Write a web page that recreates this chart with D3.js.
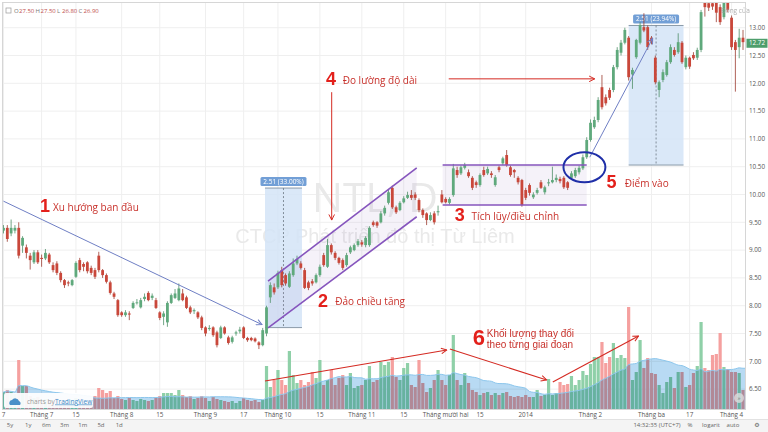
<!DOCTYPE html>
<html><head><meta charset="utf-8">
<script src="https://cdn.jsdelivr.net/npm/d3@7"></script>
<style>
body{margin:0;background:#fff;}
svg{display:block;font-family:"Open Sans","DejaVu Sans",sans-serif;}
</style></head><body>
<svg id="c" width="768" height="432"></svg>
<script>
// ---------- DATA ----------
const opens=[9.35,9.40,9.30,9.35,9.40,9.08,9.05,8.90,8.78,8.96,8.86,8.85,8.92,8.73,8.76,8.59,8.46,8.42,8.37,8.52,
8.82,8.75,8.78,8.68,8.64,8.90,8.64,8.55,8.42,8.22,8.10,7.88,7.83,7.86,7.96,8.05,7.97,8.12,8.23,8.14,
8.10,7.88,7.80,7.70,8.05,8.14,8.10,8.22,8.15,7.97,7.90,7.88,7.79,7.61,7.58,7.61,7.52,7.42,7.61,7.43,
7.35,7.50,7.54,7.61,7.42,7.42,7.41,7.34,7.29,7.50,8.15,8.33,8.33,8.64,8.55,8.34,8.55,8.76,8.76,8.64,
8.42,8.44,8.42,8.55,8.91,8.70,9.09,8.95,8.86,8.82,8.73,8.96,9.00,9.09,9.14,9.09,9.09,9.50,9.50,9.50,
9.66,9.85,10.12,9.77,9.72,9.86,9.94,9.99,10.00,9.90,9.72,9.66,9.54,9.66,9.68,10.00,9.92,9.85,9.99,10.44,
10.38,10.48,10.40,10.30,10.22,10.17,10.44,10.38,10.38,10.17,10.49,10.56,10.71,10.49,10.44,10.30,10.26,10.08,10.17,9.95,
10.03,10.22,10.04,10.20,10.22,10.26,10.28,10.30,10.22,10.30,10.33,10.40,10.47,10.67,10.98,11.21,11.34,11.93,11.75,11.88,
11.88,12.29,12.55,12.73,12.82,12.16,12.47,12.73,13.01,13.01,12.82,12.46,11.88,12.06,12.15,12.38,12.60,12.56,12.73,12.29,
12.46,12.51,12.46,12.60,13.45,13.44,13.44,13.45,13.37,13.19,13.45,13.18,12.74,12.65,12.82];
const highs=[9.45,9.45,9.55,9.45,9.50,9.25,9.10,8.95,9.00,9.00,8.92,9.02,8.95,8.78,8.80,8.62,8.48,8.45,8.48,8.80,
8.86,8.78,8.80,8.72,8.68,8.97,8.66,8.58,8.45,8.25,8.12,7.90,7.92,7.90,8.08,8.12,8.14,8.22,8.26,8.22,
8.14,7.90,7.90,8.08,8.22,8.30,8.40,8.30,8.18,8.00,7.95,7.90,7.82,7.63,7.65,7.63,7.55,7.64,7.63,7.46,
7.46,7.55,7.62,7.63,7.44,7.44,7.43,7.36,7.60,8.00,8.42,8.40,8.63,8.70,8.58,8.62,8.85,8.90,8.80,8.68,
8.45,8.48,8.58,8.74,8.95,9.20,9.12,8.98,8.88,8.85,8.95,9.08,9.12,9.20,9.18,9.25,9.43,9.53,9.52,9.70,
9.80,10.10,10.16,9.80,9.88,9.97,10.05,10.08,10.04,9.93,9.75,9.68,9.68,9.70,9.80,10.08,9.95,9.95,10.55,10.50,
10.52,10.57,10.45,10.33,10.25,10.38,10.50,10.50,10.42,10.35,10.52,10.68,10.80,10.52,10.46,10.33,10.28,10.12,10.20,10.04,
10.12,10.26,10.16,10.28,10.50,10.36,10.32,10.33,10.24,10.42,10.48,10.52,10.72,11.03,11.35,11.40,11.75,12.15,11.80,11.92,
12.33,12.65,12.78,13.00,12.85,12.28,12.80,13.10,13.26,13.04,12.85,12.50,12.05,12.25,12.42,12.70,12.65,12.90,12.76,12.50,
12.48,12.56,12.64,13.32,13.50,13.50,13.50,13.50,13.42,13.50,13.50,13.22,12.78,12.98,12.96];
const lows=[9.30,9.15,9.25,9.30,8.85,8.95,8.85,8.65,8.75,8.75,8.70,8.82,8.75,8.60,8.55,8.42,8.32,8.35,8.35,8.50,
8.60,8.62,8.58,8.55,8.48,8.60,8.50,8.40,8.20,8.12,7.80,7.80,7.80,7.74,7.94,8.02,7.95,8.08,8.08,8.10,
7.94,7.74,7.65,7.62,8.03,8.12,8.08,8.08,7.94,7.85,7.85,7.76,7.56,7.45,7.55,7.44,7.25,7.40,7.48,7.30,
7.32,7.46,7.50,7.40,7.35,7.36,7.34,7.22,7.27,7.45,8.05,8.20,8.30,8.33,8.36,8.32,8.52,8.73,8.65,8.30,
8.28,8.36,8.40,8.52,8.70,8.68,8.92,8.82,8.74,8.64,8.70,8.93,8.98,9.06,9.06,9.05,9.06,9.42,9.40,9.48,
9.62,9.82,9.74,9.65,9.70,9.84,9.92,9.90,9.90,9.68,9.58,9.45,9.52,9.46,9.62,9.84,9.84,9.82,9.96,10.30,
10.35,10.45,10.30,10.08,10.12,10.14,10.32,10.35,10.30,10.14,10.40,10.53,10.50,10.32,10.30,10.18,9.78,9.90,9.98,9.92,
10.00,10.10,10.00,10.15,10.20,10.22,10.20,10.10,10.08,10.26,10.30,10.36,10.44,10.64,10.95,11.18,11.30,11.53,11.60,11.70,
11.84,12.25,12.50,12.70,12.05,11.90,12.44,12.70,12.92,12.60,12.70,11.98,11.75,12.02,12.12,12.35,12.48,12.53,12.35,12.25,
12.26,12.42,12.42,12.56,13.20,13.30,13.32,13.10,13.05,13.15,13.28,12.60,11.85,12.45,12.60];
const closes=[9.40,9.20,9.40,9.40,8.90,9.22,8.95,8.82,8.96,8.78,8.84,8.95,8.78,8.64,8.59,8.46,8.37,8.40,8.46,8.77,
8.64,8.70,8.62,8.59,8.52,8.64,8.55,8.43,8.23,8.16,7.83,7.83,7.88,7.84,8.05,8.06,8.10,8.16,8.10,8.18,
7.96,7.78,7.86,8.05,8.19,8.22,8.31,8.10,7.96,7.88,7.92,7.79,7.60,7.50,7.60,7.47,7.29,7.61,7.50,7.33,
7.43,7.52,7.57,7.42,7.38,7.38,7.36,7.29,7.56,7.97,8.37,8.24,8.59,8.37,8.40,8.58,8.76,8.84,8.68,8.32,
8.32,8.40,8.55,8.70,8.73,9.09,8.96,8.86,8.77,8.68,8.91,9.05,9.09,9.16,9.10,9.22,9.40,9.45,9.44,9.66,
9.76,10.04,9.77,9.68,9.85,9.93,9.99,9.94,9.94,9.72,9.63,9.54,9.63,9.50,9.70,9.86,9.86,9.92,10.47,10.35,
10.49,10.53,10.33,10.12,10.17,10.35,10.35,10.46,10.35,10.31,10.44,10.65,10.53,10.35,10.40,10.22,9.81,9.94,10.03,10.00,
10.08,10.12,10.13,10.22,10.26,10.30,10.24,10.13,10.12,10.38,10.44,10.48,10.67,10.98,11.29,11.34,11.70,11.57,11.64,11.74,
12.29,12.60,12.73,12.96,12.11,12.24,12.78,13.05,12.95,12.65,12.75,12.02,12.02,12.20,12.38,12.65,12.51,12.74,12.38,12.46,
12.30,12.45,12.60,13.28,13.37,13.36,13.38,13.27,13.10,13.45,13.32,12.65,12.60,12.82,12.74];
const volumes=[170,190,170,150,490,230,230,130,110,120,90,100,90,80,110,90,80,70,90,110,
100,70,80,90,130,210,190,160,180,110,130,100,90,110,90,80,100,90,80,90,
110,130,160,160,160,140,190,140,120,130,100,110,130,110,80,120,100,90,80,70,
80,60,80,110,90,80,90,70,90,430,220,290,390,290,240,580,340,260,290,240,
270,370,310,490,240,290,390,240,310,340,240,360,210,230,240,290,430,270,290,470,
440,470,520,320,290,410,460,240,220,490,260,170,210,290,390,290,240,340,740,290,
240,360,260,190,170,140,160,170,140,160,140,160,170,130,120,130,120,140,120,120,
190,130,140,300,140,160,270,240,250,330,240,290,380,340,450,520,520,670,460,520,
660,510,540,510,1020,290,370,690,410,510,360,350,240,160,270,320,210,370,370,220,
240,360,430,870,410,390,540,550,760,420,400,370,370,360,190];
const tickLabels=["7","Tháng 7","15","Tháng 8","15","Tháng 9","17","Tháng 10","15","Tháng 11","15","Tháng mười hai","15","2014","Tháng 2","Tháng ba","17","Tháng 4"];
const tickIndex=[0,10,19,31,41,53,63,72,83,94,105,116,125,137,154,170,180,191];
const priceTicks=[6.5,7,7.5,8,8.5,9,9.5,10,10.5,11,11.5,12,12.5,13];
const lastPrice=12.72;
const legendValues=[["O","27.50"],["H","27.50"],["L","26.80"],["C","26.90"]];
const toolbarLeft=["5y","1y","6m","3m","1m","5d","1d"];
// annotations anchored in (bar index, price) / (bar index, volume)
const trendLine=[[0,9.88],[67.8,7.66]];
const channelUpper=[[69.4,8.44],[108.4,10.48]];
const channelLower=[[69.4,7.60],[108.4,9.60]];
const rangeBox={i0:115.2,i1:153,top:10.53,bottom:9.81};
const measures=[{i0:68.6,i1:78.3,bottom:7.606,top:10.116,label:"2.51 (33.00%)"},
                {i0:164.0,i1:178.4,bottom:10.53,top:13.04,label:"2.51 (23.94%)"}];
const entryEllipse={i:152.4,p:10.49,di:5.5,dp:0.27};
const breakoutLine=[[153.8,10.67],[170.3,12.81]];
const arrow4v=[[86.1,11.84],[86.1,9.54]];
const arrow4h=[[116.8,12.08],[155.1,12.08]];
const volArrows=[[[68.6,280],[116.3,590]],[[117.1,600],[142.5,290]],[[144.1,270],[166.6,730]]];
const notes=[
 {n:"1",i:9.6,p:9.68,t:["Xu hướng ban đầu"],ti:13,tp:9.70,pane:"p"},
 {n:"2",i:82.5,p:7.97,t:["Đảo chiều tăng"],ti:87,tp:8.01,pane:"p"},
 {n:"3",i:118.4,p:9.52,t:["Tích lũy/điều chỉnh"],ti:122.8,tp:9.54,pane:"p"},
 {n:"4",i:84.6,p:11.97,t:["Đo lường độ dài"],ti:89,tp:11.99,pane:"p"},
 {n:"5",i:158.2,p:10.12,t:["Điểm vào"],ti:163,tp:10.14,pane:"p"},
 {n:"6",i:123.1,p:640,t:["Khối lượng thay đổi","theo từng giai đoạn"],ti:126.8,tp:720,pane:"v"}
];

// ---------- SCALES ----------
const svg=d3.select("#c");
const x=d3.scaleLinear().domain([0,194]).range([3.5,743]);
const y=d3.scaleLinear().domain([6.5,13]).range([389.1,27.7]);
const yv=d3.scaleLinear().domain([0,1020]).range([409,307]);
const N=closes.length;
const data=d3.range(N).map(i=>({i,o:opens[i],h:highs[i],l:lows[i],c:closes[i],v:volumes[i]}));

svg.append("rect").attr("width",768).attr("height",432).attr("fill","#fff");
const defs=svg.append("defs");
defs.append("clipPath").attr("id","plot").append("rect").attr("x",3).attr("y",3).attr("width",742).attr("height",406);
function marker(id,color){
  defs.append("marker").attr("id",id).attr("viewBox","0 0 10 10").attr("refX",9).attr("refY",5)
   .attr("markerWidth",7).attr("markerHeight",7).attr("markerUnits","userSpaceOnUse").attr("orient","auto")
   .append("path").attr("d","M1,1 L9,5 L1,9").attr("fill","none").attr("stroke",color).attr("stroke-width",1.4);
}
marker("arBlue","#6f7fc4");marker("arRed","#d42a22");

const plot=svg.append("g").attr("clip-path","url(#plot)");

// grid
plot.append("g").selectAll("line").data(priceTicks).join("line")
 .attr("x1",3).attr("x2",745).attr("y1",d=>y(d)).attr("y2",d=>y(d)).attr("stroke","#efefef");
plot.append("g").selectAll("line").data(tickIndex).join("line")
 .attr("x1",d=>x(d)).attr("x2",d=>x(d)).attr("y1",3).attr("y2",409).attr("stroke","#efefef");

// watermark
plot.append("text").attr("x",375).attr("y",212).attr("text-anchor","middle").attr("font-size",41)
 .attr("fill","#e9e9e9").attr("font-family","'Open Sans',sans-serif").text("NTL, D");
plot.append("text").attr("x",375).attr("y",243).attr("text-anchor","middle").attr("font-size",20)
 .attr("fill","#e9e9e9").attr("font-family","'Liberation Sans',Arial,sans-serif").text("CTCP Phát triển đô thị Từ Liêm");

// measure boxes
measures.forEach(m=>{
  const g=plot.append("g");
  g.append("rect").attr("x",x(m.i0)).attr("width",x(m.i1)-x(m.i0)).attr("y",y(m.top)).attr("height",y(m.bottom)-y(m.top))
   .attr("fill","#d4e4f7").attr("opacity",0.85);
  [m.top,m.bottom].forEach(p=>g.append("line").attr("x1",x(m.i0)).attr("x2",x(m.i1)).attr("y1",y(p)).attr("y2",y(p)).attr("stroke","#8a9aa8").attr("stroke-width",1));
  const cx=(x(m.i0)+x(m.i1))/2;
  g.append("line").attr("x1",cx).attr("x2",cx).attr("y1",y(m.top)).attr("y2",y(m.bottom)).attr("stroke","#6a7580").attr("stroke-dasharray","2,2").attr("stroke-width",0.8);
  g.append("rect").attr("x",cx-23).attr("y",y(m.top)-11).attr("width",46).attr("height",9).attr("rx",1.5).attr("fill","#729fd6");
  g.append("text").attr("x",cx).attr("y",y(m.top)-4.3).attr("text-anchor","middle").attr("font-size",6.5).attr("fill","#fff").text(m.label);
});

// channel + range box fills
plot.append("path").attr("d",d3.line()([...channelUpper,...channelLower.slice().reverse()].map(d=>[x(d[0]),y(d[1])]))+"Z")
 .attr("fill","#9a7cc8").attr("opacity",0.1);
plot.append("rect").attr("x",x(rangeBox.i0)).attr("width",x(rangeBox.i1)-x(rangeBox.i0)).attr("y",y(rangeBox.top)).attr("height",y(rangeBox.bottom)-y(rangeBox.top))
 .attr("fill","#9a7cc8").attr("opacity",0.1);

// volume
plot.append("g").selectAll("rect").data(data).join("rect")
 .attr("x",d=>x(d.i)-1.6).attr("width",3.2).attr("y",d=>yv(d.v)).attr("height",d=>409-yv(d.v))
 .attr("fill",d=>d.c>=d.o?"#8fd0a8":"#f5a09f");
const ma=data.map((d,i)=>{const s=volumes.slice(Math.max(0,i-19),i+1);return [i,d3.mean(s)];});
const maExt=[[-1,ma[0][1]],...ma,[196,ma[N-1][1]]];
plot.append("path").attr("d",d3.area().x(d=>x(d[0])).y0(409).y1(d=>yv(d[1])).curve(d3.curveMonotoneX)(maExt))
 .attr("fill","#b8daf3").style("mix-blend-mode","multiply");
plot.append("path").attr("d",d3.line().x(d=>x(d[0])).y(d=>yv(d[1])).curve(d3.curveMonotoneX)(maExt))
 .attr("fill","none").attr("stroke","#8cc6ec").attr("stroke-width",1);

// candles
const cg=plot.append("g");
cg.selectAll("line").data(data).join("line")
 .attr("x1",d=>x(d.i)).attr("x2",d=>x(d.i)).attr("y1",d=>y(d.h)).attr("y2",d=>y(d.l))
 .attr("stroke",d=>d.c>=d.o?"#4f8f68":"#9a3a2e").attr("stroke-width",0.8);
cg.selectAll("rect").data(data).join("rect")
 .attr("x",d=>x(d.i)-1.4).attr("width",2.8)
 .attr("y",d=>y(Math.max(d.o,d.c))).attr("height",d=>Math.max(0.9,y(Math.min(d.o,d.c))-y(Math.max(d.o,d.c))))
 .attr("fill",d=>d.c>=d.o?"#5fa97c":"#c9473a");

// annotation lines
const L=(pts,yy)=>pts.map(d=>[x(d[0]),yy(d[1])]);
const ln=d3.line();
plot.append("path").attr("d",ln(L(trendLine,y))).attr("stroke","#6f7fc4").attr("stroke-width",1).attr("fill","none").attr("marker-end","url(#arBlue)");
[channelUpper,channelLower].forEach(c=>plot.append("path").attr("d",ln(L(c,y))).attr("stroke","#8655bd").attr("stroke-width",1.6).attr("fill","none"));
[rangeBox.top,rangeBox.bottom].forEach(p=>plot.append("line").attr("x1",x(rangeBox.i0)).attr("x2",x(rangeBox.i1)).attr("y1",y(p)).attr("y2",y(p)).attr("stroke","#8655bd").attr("stroke-width",1.6));
plot.append("path").attr("d",ln(L(breakoutLine,y))).attr("stroke","#6f7fc4").attr("stroke-width",1).attr("fill","none").attr("marker-end","url(#arBlue)");
plot.append("ellipse").attr("cx",x(entryEllipse.i)).attr("cy",y(entryEllipse.p))
 .attr("rx",x(entryEllipse.i+entryEllipse.di)-x(entryEllipse.i)).attr("ry",y(entryEllipse.p-entryEllipse.dp)-y(entryEllipse.p))
 .attr("fill","none").attr("stroke","#1f2fa8").attr("stroke-width",2);
[arrow4v,arrow4h].forEach(a=>plot.append("path").attr("d",ln(L(a,y))).attr("stroke","#d42a22").attr("stroke-width",1).attr("fill","none").attr("marker-end","url(#arRed)"));
volArrows.forEach(a=>plot.append("path").attr("d",ln(L(a,yv))).attr("stroke","#d42a22").attr("stroke-width",1.1).attr("fill","none").attr("marker-end","url(#arRed)"));

// annotation texts
notes.forEach(nt=>{
  const yy=nt.pane==="p"?y:yv;
  plot.append("text").attr("x",x(nt.i)).attr("y",yy(nt.p)).attr("font-size",nt.n==="6"?22:18).attr("font-weight","bold")
   .attr("font-family","'Liberation Sans',Arial,sans-serif").attr("fill","#e3201b").text(nt.n);
  const multi=nt.t.length>1;
  const t=plot.append("text").attr("x",x(nt.ti)).attr("y",yy(nt.tp))
   .attr("font-size",multi?10:10).attr("font-family",multi?"'Liberation Sans',Arial,sans-serif":"'Open Sans',sans-serif").attr("fill","#c8312b");
  nt.t.forEach((s,k)=>t.append("tspan").attr("x",x(nt.ti)).attr("dy",k?11.3:0).text(s));
});

// "Đóng cửa" faint label
svg.append("text").attr("x",721).attr("y",13).attr("font-size",6.5).attr("fill","#9a9a9a").attr("opacity",0.8).text("Đóng cửa");

// frame
svg.append("rect").attr("x",2.5).attr("y",2.5).attr("width",743).attr("height",407).attr("fill","none").attr("stroke","#d6d6d6");

// price axis
const pa=svg.append("g");
pa.selectAll("text").data(priceTicks).join("text").attr("x",749).attr("y",d=>y(d)+2.2).attr("font-size",6.3).attr("fill","#555")
 .text(d=>d.toFixed(2));
pa.append("rect").attr("x",746.5).attr("y",y(lastPrice)-4.5).attr("width",21).attr("height",9).attr("fill","#4e9e6c");
pa.append("text").attr("x",749).attr("y",y(lastPrice)+2.2).attr("font-size",6.3).attr("fill","#fff").text(lastPrice.toFixed(2));

// time axis
svg.append("g").selectAll("text").data(tickIndex).join("text").attr("x",d=>x(d)).attr("y",417).attr("text-anchor","middle")
 .attr("font-size",6.3).attr("fill","#555").text((d,k)=>tickLabels[k]);

// toolbar
svg.append("rect").attr("x",0).attr("y",419.5).attr("width",768).attr("height",12.5).attr("fill","#f4f4f4");
svg.append("line").attr("x1",0).attr("x2",768).attr("y1",419.5).attr("y2",419.5).attr("stroke","#e2e2e2");
svg.append("g").selectAll("text").data(toolbarLeft).join("text").attr("x",(d,k)=>10+k*18.2).attr("y",427).attr("text-anchor","middle")
 .attr("font-size",6).attr("fill","#666").text(d=>d);
[["14:32:35 (UTC+7)",657],["%",690],["logarit",711],["auto",733],["⚙",757]].forEach(t=>
  svg.append("text").attr("x",t[1]).attr("y",427).attr("text-anchor","middle").attr("font-size",6).attr("fill","#666").text(t[0]));

// legend
svg.append("rect").attr("x",6).attr("y",8).attr("width",5).attr("height",5).attr("fill","none").attr("stroke","#999").attr("stroke-width",0.7);
let lx=14;
legendValues.forEach(v=>{
  svg.append("text").attr("x",lx).attr("y",13).attr("font-size",6).attr("fill","#777").text(v[0]);
  svg.append("text").attr("x",lx+5).attr("y",13).attr("font-size",6).attr("fill","#c0504d").text(v[1]);
  lx+=21.5;
});

// tradingview badge
svg.append("rect").attr("x",4).attr("y",393).attr("width",89).attr("height",15).attr("rx",2).attr("fill","#fff").attr("opacity",0.92);
svg.append("path").attr("d","M10,405 a3,3 0 0 1 2,-5 a4,4 0 0 1 7,1 a2.5,2.5 0 0 1 1,4 Z").attr("fill","#4a90c8");
svg.append("text").attr("x",27).attr("y",403.5).attr("font-size",6.5).attr("fill","#999").text("charts by");
svg.append("text").attr("x",55).attr("y",403.5).attr("font-size",6.5).attr("fill","#3d8bc9").attr("text-decoration","underline").text("TradingView");
svg.append("circle").attr("cx",739).attr("cy",398).attr("r",5).attr("fill","#ddd").attr("opacity",0.8);
svg.append("text").attr("x",739).attr("y",400).attr("text-anchor","middle").attr("font-size",6).attr("fill","#777").text("»");
</script>
</body></html>
